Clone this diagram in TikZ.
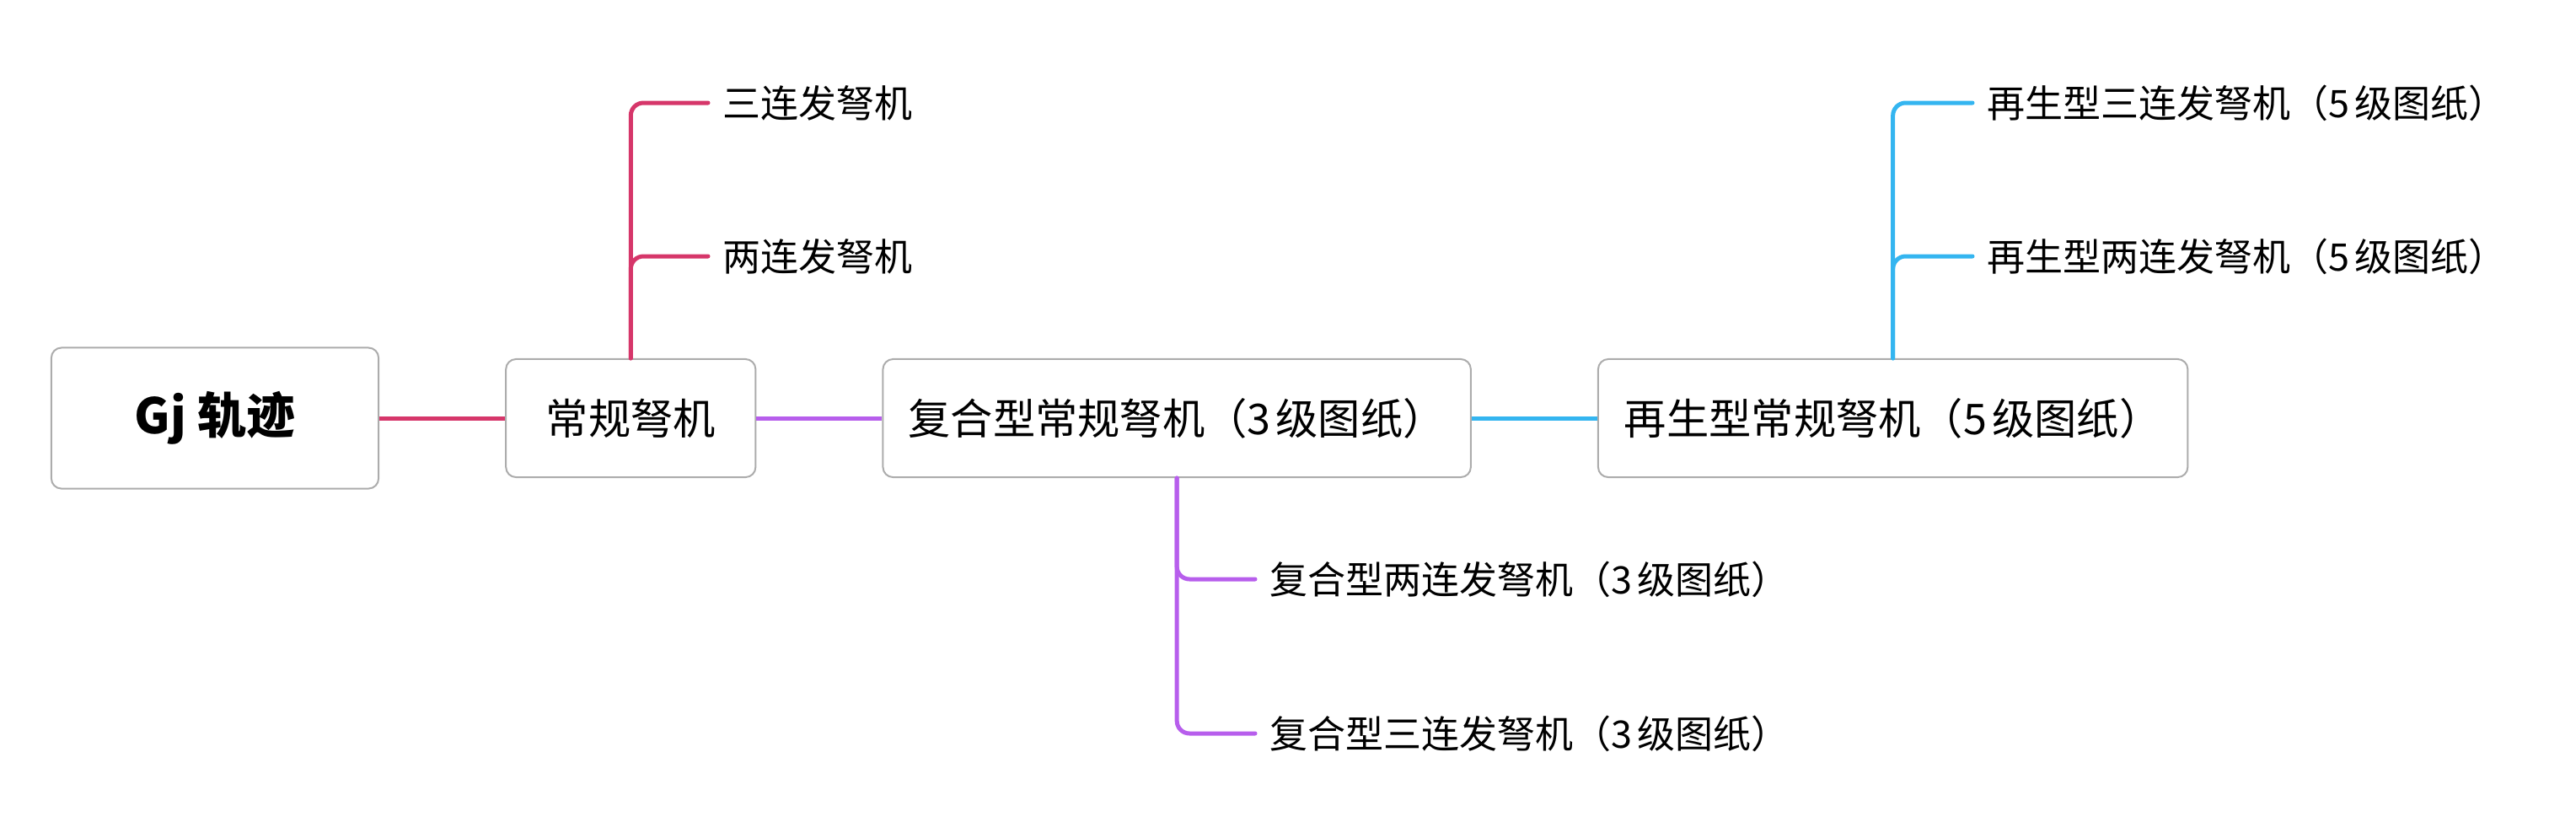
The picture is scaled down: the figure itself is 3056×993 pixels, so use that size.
\documentclass[tikz,border=0pt]{standalone}
\usepackage{fontspec}
\setmainfont{Noto Sans CJK SC}
\definecolor{red1}{RGB}{214, 54, 106}
\definecolor{purple1}{RGB}{183, 94, 236}
\definecolor{blue1}{RGB}{52, 181, 240}
\definecolor{gray1}{RGB}{172, 172, 172}
\usetikzlibrary{positioning}
\newcommand{\dg}[1]{#1\hspace{0.12em}}

\begin{document}
\begin{tikzpicture}[x=0.01cm, y=-0.01cm,
  topic/.style={draw=gray1, line width=0.02cm, fill=white, rounded corners=0.12cm, align=center, minimum height=1.40cm, inner sep=0pt, font=\fontsize{14.3pt}{16pt}\selectfont},
  leaf/.style={anchor=west, inner xsep=0.17cm, inner ysep=0pt, font=\fontsize{12.8pt}{15pt}\selectfont},
  branch/.style={line width=0.05cm, line cap=round, rounded corners=0.15cm}]
  \useasboundingbox (0,0) rectangle (3056,993);

  % main row
  \node[topic, minimum width=3.88cm, minimum height=1.67cm, font=\bfseries\fontsize{16.5pt}{19pt}\selectfont] (root) at (255,496) {Gj 轨迹};
  \node[topic, minimum width=2.96cm, right=1.49cm of root] (regular) {常规弩机};
  \node[topic, minimum width=6.97cm, right=1.49cm of regular] (compound) {复合型常规弩机（\dg{3}级图纸）};
  \node[topic, minimum width=6.99cm, right=1.49cm of compound] (regen) {再生型常规弩机（\dg{5}级图纸）};

  % leaves
  \node[leaf] (triple) at (840,122) {三连发弩机};
  \node[leaf] (double) at (840,304) {两连发弩机};
  \node[leaf] (ctwo) at (1489,687) {复合型两连发弩机（\dg{3}级图纸）};
  \node[leaf] (cthree) at (1489,870) {复合型三连发弩机（\dg{3}级图纸）};
  \node[leaf] (rtriple) at (2340,122) {再生型三连发弩机（\dg{5}级图纸）};
  \node[leaf] (rdouble) at (2340,304) {再生型两连发弩机（\dg{5}级图纸）};

  \draw[branch, red1, line cap=butt] (root) -- (regular);
  \draw[branch, red1] (regular.north) |- (triple.west);
  \draw[branch, red1] (regular.north) |- (double.west);

  \draw[branch, purple1, line cap=butt] (regular) -- (compound);
  \draw[branch, purple1] (compound.south) |- (ctwo.west);
  \draw[branch, purple1] (compound.south) |- (cthree.west);

  \draw[branch, blue1, line cap=butt] (compound) -- (regen);
  \draw[branch, blue1] (regen.north) |- (rtriple.west);
  \draw[branch, blue1] (regen.north) |- (rdouble.west);
\end{tikzpicture}
\end{document}
